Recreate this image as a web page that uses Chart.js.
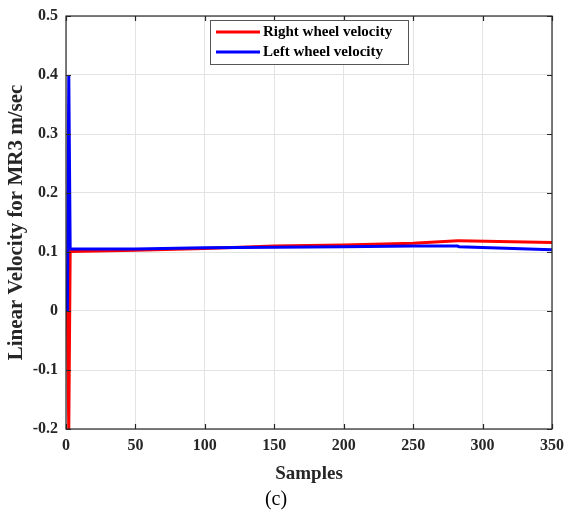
<!DOCTYPE html>
<html>
<head>
<meta charset="utf-8">
<script src="https://cdn.jsdelivr.net/npm/chart.js@4/dist/chart.umd.min.js"></script>
<style>
  html, body { margin: 0; padding: 0; background: #fff; }
  #wrap { width: 566px; height: 514px; }
</style>
</head>
<body>
<div id="wrap"><canvas id="velChart" width="566" height="514"></canvas></div>
<script>
// wheel velocity samples for MR3
const samples       = [1, 2, 3, 50, 100, 150, 200, 250, 282, 283, 350];
const rightVelocity = [0, -0.2, 0.101, 0.103, 0.106, 0.110, 0.112, 0.115, 0.119, 0.119, 0.116];
const leftVelocity  = [0, 0.4, 0.105, 0.105, 0.107, 0.108, 0.109, 0.110, 0.110, 0.109, 0.104];
const seriesNames   = ['Right wheel velocity', 'Left wheel velocity'];
const seriesColors  = ['#ff0000', '#0000ff'];
const xTicks = [0, 50, 100, 150, 200, 250, 300, 350];
const yTicks = [-0.2, -0.1, 0, 0.1, 0.2, 0.3, 0.4, 0.5];

const FONT = "'Liberation Serif', 'Times New Roman', serif";
const INK = '#262626';

function toPoints(xs, ys) {
    return xs.map((x, i) => ({ x: x, y: ys[i] }));
}

// box outline, inward ticks and the boxed legend
const axesBox = {
    id: 'axesBox',
    afterDatasetsDraw(chart) {
        const { ctx, chartArea: a, scales } = chart;
        ctx.save();
        ctx.strokeStyle = INK;
        ctx.lineWidth = 1.2;
        ctx.beginPath();
        xTicks.forEach(v => {
            const px = Math.round(scales.x.getPixelForValue(v)) + 0.5;
            ctx.moveTo(px, a.bottom); ctx.lineTo(px, a.bottom - 5);
            ctx.moveTo(px, a.top); ctx.lineTo(px, a.top + 5);
        });
        yTicks.forEach(v => {
            const py = Math.round(scales.y.getPixelForValue(v)) + 0.5;
            ctx.moveTo(a.left, py); ctx.lineTo(a.left + 5, py);
            ctx.moveTo(a.right, py); ctx.lineTo(a.right - 5, py);
        });
        ctx.stroke();
        ctx.strokeRect(a.left, a.top, a.right - a.left, a.bottom - a.top);

        // legend
        const lx = 210, ly = 20, lw = 198, lh = 44;
        ctx.fillStyle = '#fff';
        ctx.fillRect(lx, ly, lw, lh);
        ctx.strokeStyle = '#555';
        ctx.lineWidth = 1;
        ctx.strokeRect(lx + 0.5, ly + 0.5, lw, lh);
        ctx.font = 'bold 15px ' + FONT;
        ctx.textBaseline = 'middle';
        seriesNames.forEach((name, i) => {
            const y = ly + 12 + i * 20;
            ctx.strokeStyle = seriesColors[i];
            ctx.lineWidth = 3;
            ctx.beginPath();
            ctx.moveTo(lx + 6, y); ctx.lineTo(lx + 50, y);
            ctx.stroke();
            ctx.fillStyle = '#000';
            ctx.fillText(name, lx + 53, y);
        });
        ctx.restore();
    }
};

new Chart(document.getElementById('velChart'), {
    type: 'line',
    data: {
        datasets: [
            {
                label: seriesNames[0],
                data: toPoints(samples, rightVelocity),
                borderColor: seriesColors[0],
                borderWidth: 3,
                pointRadius: 0,
                tension: 0,
                order: 2
            },
            {
                label: seriesNames[1],
                data: toPoints(samples, leftVelocity),
                borderColor: seriesColors[1],
                borderWidth: 3,
                pointRadius: 0,
                tension: 0,
                order: 1
            }
        ]
    },
    options: {
        responsive: false,
        animation: false,
        devicePixelRatio: 1,
        layout: { padding: { left: 0, right: 14, top: 16, bottom: 0 } },
        plugins: {
            legend: { display: false },
            tooltip: { enabled: false },
            title: {
                display: true,
                position: 'bottom',
                text: '(c)',
                color: '#000',
                font: { family: FONT, size: 20, weight: 'normal', lineHeight: 1.2 },
                padding: { top: 3, bottom: 2 }
            }
        },
        scales: {
            x: {
                type: 'linear',
                min: 0,
                max: 350,
                afterFit: s => { s.height = 56; s.paddingLeft = 0; s.paddingRight = 0; },
                afterBuildTicks: s => { s.ticks = xTicks.map(v => ({ value: v })); },
                grid: { color: '#e3e3e3', drawTicks: false },
                border: { display: false },
                ticks: {
                    color: INK,
                    padding: 7,
                    maxRotation: 0,
                    font: { family: FONT, size: 16, weight: 'bold' }
                },
                title: {
                    display: true,
                    text: 'Samples',
                    color: INK,
                    padding: 0,
                    font: { family: FONT, size: 19, weight: 'bold', lineHeight: 1.2 }
                }
            },
            y: {
                type: 'linear',
                min: -0.2,
                max: 0.5,
                afterFit: s => { s.width = 66; s.paddingTop = 0; s.paddingBottom = 0; },
                afterBuildTicks: s => { s.ticks = yTicks.map(v => ({ value: v })); },
                grid: { color: '#e3e3e3', drawTicks: false },
                border: { display: false },
                ticks: {
                    color: INK,
                    padding: 8,
                    font: { family: FONT, size: 16, weight: 'bold' },
                    callback: v => String(+v.toFixed(1))
                },
                title: {
                    display: true,
                    text: 'Linear Velocity for MR3 m/sec',
                    color: INK,
                    padding: 4,
                    font: { family: FONT, size: 21, weight: 'bold', lineHeight: 1.2 }
                }
            }
        }
    },
    plugins: [axesBox]
});
</script>
</body>
</html>
